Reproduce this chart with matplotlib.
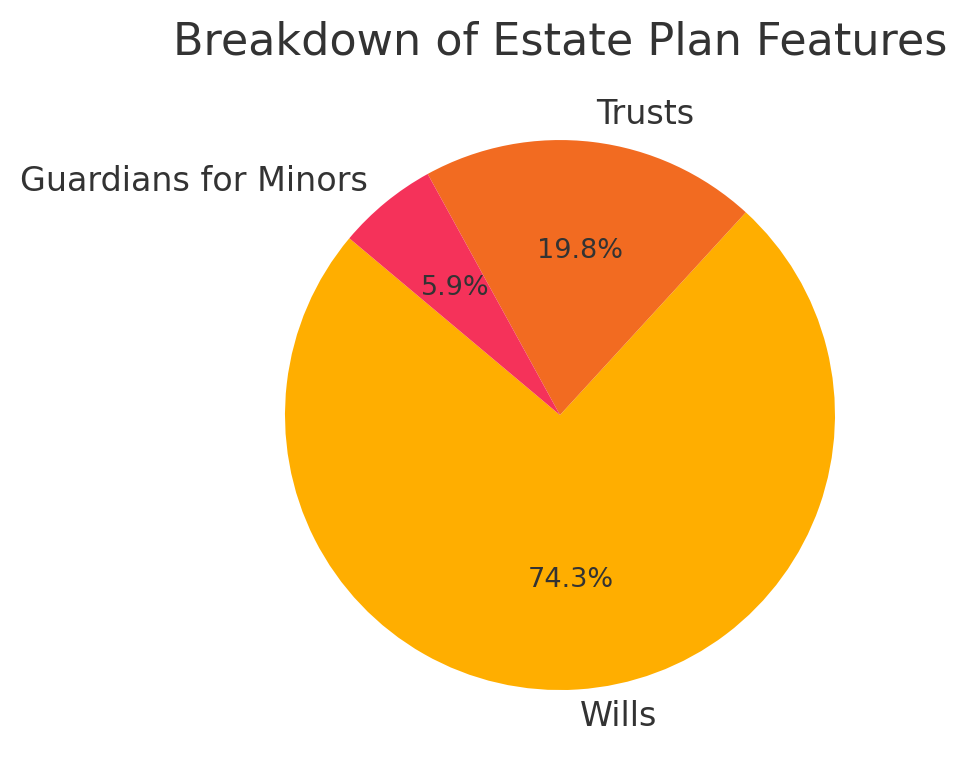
import matplotlib
matplotlib.use("Agg")
import matplotlib.pyplot as plt

labels = ["Wills", "Trusts", "Guardians for Minors"]
values = [74.3, 19.8, 5.9]
colors = ["#FFAE00", "#F26B21", "#F5325A"]

fig = plt.figure(figsize=(9.67, 7.8), dpi=100)
ax = fig.add_axes([0.2236, 0.0272, 0.711, 0.8814])
wedges, texts, autotexts = ax.pie(values, labels=labels, colors=colors,
                                  autopct="%1.1f%%", startangle=140,
                                  textprops={"color": "#333333", "fontsize": 24})
for t in autotexts:
    t.set_fontsize(19.5)
ax.set_aspect("equal")
ax.set_title("Breakdown of Estate Plan Features", fontsize=32, color="#333333", pad=12)
fig.savefig("out.png", dpi=100)
